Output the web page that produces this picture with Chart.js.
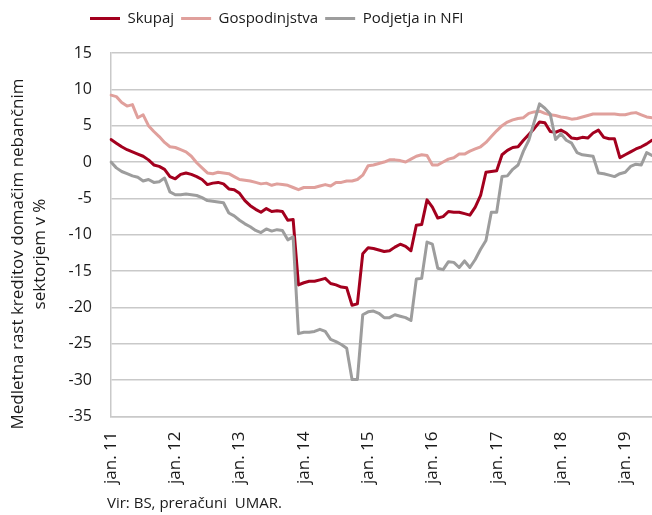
<!DOCTYPE html>
<html>
<head>
<meta charset="utf-8">
<title>Medletna rast kreditov</title>
<script src="https://cdn.jsdelivr.net/npm/chart.js@4.4.1/dist/chart.umd.min.js"></script>
<style>
  html, body { margin: 0; padding: 0; background: #fff; }
  #wrap { width: 652px; height: 515px; }
</style>
</head>
<body>
<div id="wrap"><canvas id="chart" width="652" height="515"></canvas></div>
<script>
// monthly data, jan. 2011 - jun. 2019
const months = ['jan.', 'feb.', 'mar.', 'apr.', 'maj', 'jun.', 'jul.', 'avg.', 'sep.', 'okt.', 'nov.', 'dec.'];
const years = ['11', '12', '13', '14', '15', '16', '17', '18', '19'];
const categories = [];
years.forEach(y => months.forEach(m => categories.push(m + ' ' + y)));
categories.length = 102; // last month is jun. 19

const skupaj = [
  3.1, 2.6, 2.1, 1.7, 1.4, 1.1, 0.8, 0.3, -0.4, -0.6, -1.0, -2.0,
  -2.3, -1.7, -1.5, -1.7, -2.0, -2.4, -3.1, -2.9, -2.8, -3.0, -3.7, -3.8,
  -4.3, -5.3, -6.0, -6.5, -6.9, -6.4, -6.8, -6.7, -6.8, -8.0, -7.9, -16.9,
  -16.6, -16.4, -16.4, -16.2, -16.0, -16.7, -16.9, -17.2, -17.3, -19.7, -19.5, -12.6,
  -11.8, -11.9, -12.1, -12.3, -12.2, -11.7, -11.3, -11.6, -12.2, -8.7, -8.6, -5.2,
  -6.2, -7.7, -7.5, -6.8, -6.9, -6.9, -7.1, -7.3, -6.2, -4.6, -1.4, -1.3,
  -1.2, 1.0, 1.6, 2.0, 2.1, 3.0, 3.8, 4.6, 5.5, 5.4, 4.2, 4.1,
  4.4, 4.0, 3.3, 3.2, 3.4, 3.3, 4.0, 4.4, 3.4, 3.2, 3.2, 0.6,
  1.0, 1.4, 1.8, 2.1, 2.5, 3.0
];

const gospodinjstva = [
  9.2, 9.0, 8.2, 7.7, 7.9, 6.1, 6.5, 5.0, 4.2, 3.5, 2.7, 2.1,
  2.0, 1.7, 1.4, 0.8, -0.1, -0.8, -1.5, -1.6, -1.4, -1.5, -1.6, -2.0,
  -2.4, -2.5, -2.6, -2.8, -3.0, -2.9, -3.2, -3.0, -3.1, -3.2, -3.5, -3.8,
  -3.5, -3.5, -3.5, -3.3, -3.1, -3.3, -2.8, -2.8, -2.6, -2.6, -2.4, -1.8,
  -0.5, -0.4, -0.2, 0.0, 0.3, 0.3, 0.2, 0.0, 0.4, 0.8, 1.0, 0.9,
  -0.4, -0.4, 0.0, 0.4, 0.6, 1.1, 1.1, 1.5, 1.8, 2.1, 2.7, 3.5,
  4.3, 5.0, 5.5, 5.8, 6.0, 6.1, 6.7, 6.9, 7.0, 6.7, 6.5, 6.4,
  6.2, 6.1, 5.9, 6.0, 6.2, 6.4, 6.6, 6.6, 6.6, 6.6, 6.6, 6.5,
  6.5, 6.7, 6.8, 6.5, 6.2, 6.1
];

const podjetja = [
  0.0, -0.8, -1.3, -1.6, -1.9, -2.1, -2.6, -2.4, -2.8, -2.7, -2.2, -4.1,
  -4.5, -4.5, -4.4, -4.5, -4.6, -4.9, -5.3, -5.4, -5.5, -5.6, -7.0, -7.4,
  -8.0, -8.5, -8.9, -9.4, -9.7, -9.2, -9.5, -9.3, -9.4, -10.7, -10.3, -23.6,
  -23.4, -23.4, -23.3, -23.0, -23.3, -24.4, -24.7, -25.1, -25.6, -29.9, -29.9, -21.0,
  -20.6, -20.5, -20.8, -21.4, -21.4, -21.0, -21.2, -21.4, -21.8, -16.1, -16.0, -11.0,
  -11.3, -14.6, -14.8, -13.7, -13.8, -14.5, -13.6, -14.5, -13.4, -12.0, -10.8, -6.9,
  -6.9, -2.0, -1.9, -1.0, -0.4, 1.5, 3.0, 5.5, 8.0, 7.4, 6.6, 3.1,
  3.9, 3.0, 2.6, 1.3, 1.0, 0.9, 0.8, -1.5, -1.6, -1.8, -2.0, -1.6,
  -1.4, -0.6, -0.3, -0.4, 1.3, 0.9
];

const yTitle = ['Medletna rast kreditov domačim nebančnim', 'sektorjem v %'];
const sourceText = 'Vir: BS, preračuni  UMAR.';

const FONT = '"Open Sans", "Noto Sans", sans-serif';
const GRID = '#c9c9c9';
const TEXT = '#1a1a1a';

// extra room under the legend, and legend moved right
const legendPlace = {
  id: 'legendPlace',
  beforeInit(chart) {
    const fit = chart.legend.fit;
    chart.legend.fit = function () {
      fit.bind(chart.legend)();
      this.height += 17;
    };
  },
  afterLayout(chart) {
    chart.legend.left = 83;
  }
};

// y title and source line are plain text on the canvas
const sideTexts = {
  id: 'sideTexts',
  afterDraw(chart) {
    const ctx = chart.ctx;
    ctx.save();
    ctx.fillStyle = TEXT;
    ctx.textAlign = 'center';
    ctx.textBaseline = 'middle';
    ctx.font = '17px ' + FONT;
    ctx.translate(18, 254);
    ctx.rotate(-Math.PI / 2);
    ctx.fillText(yTitle[0], 0, 0);
    ctx.fillText(yTitle[1], 0, 22);
    ctx.restore();

    ctx.save();
    ctx.fillStyle = TEXT;
    ctx.textBaseline = 'middle';
    ctx.font = '15px ' + FONT;
    ctx.fillText(sourceText, 107, 504);
    ctx.restore();
  }
};

new Chart(document.getElementById('chart'), {
  type: 'line',
  data: {
    labels: categories,
    datasets: [
      {
        label: 'Skupaj',
        data: skupaj,
        borderColor: '#a3001e',
        backgroundColor: '#a3001e',
        borderWidth: 3,
        order: 2
      },
      {
        label: 'Gospodinjstva',
        data: gospodinjstva,
        borderColor: '#e0a09c',
        backgroundColor: '#e0a09c',
        borderWidth: 3,
        order: 1
      },
      {
        label: 'Podjetja in NFI',
        data: podjetja,
        borderColor: '#9d9d9d',
        backgroundColor: '#9d9d9d',
        borderWidth: 3,
        order: 0
      }
    ]
  },
  options: {
    responsive: false,
    animation: false,
    devicePixelRatio: 1,
    layout: {
      padding: { left: 0, right: 0, top: 4, bottom: 24 }
    },
    elements: {
      line: { tension: 0, borderCapStyle: 'round', borderJoinStyle: 'round' },
      point: { radius: 0 }
    },
    plugins: {
      tooltip: { enabled: false },
      legend: {
        position: 'top',
        align: 'start',
        labels: {
          boxWidth: 30,
          boxHeight: 3,
          padding: 7,
          color: TEXT,
          font: { family: FONT, size: 15 },
          sort: (a, b) => a.datasetIndex - b.datasetIndex,
          generateLabels: (chart) =>
            Chart.defaults.plugins.legend.labels.generateLabels(chart)
              .map(item => Object.assign(item, { lineWidth: 0 }))
        }
      }
    },
    scales: {
      x: {
        type: 'category',
        offset: false,
        afterFit: (scale) => { scale.paddingRight = 0; scale.paddingLeft = 0; },
        grid: { display: false },
        border: { display: true, color: GRID, width: 1.5 },
        ticks: {
          autoSkip: false,
          maxRotation: 90,
          minRotation: 90,
          padding: 7,
          color: TEXT,
          font: { family: FONT, size: 17 },
          callback: function (value) {
            const lbl = this.getLabelForValue(value);
            return lbl.startsWith('jan.') ? lbl : '';
          }
        }
      },
      y: {
        min: -35,
        max: 15,
        afterFit: (scale) => { scale.width = 111; },
        grid: { color: GRID, lineWidth: 1.5, drawTicks: false },
        border: { display: true, color: GRID, width: 1.5 },
        ticks: {
          stepSize: 5,
          padding: 19,
          color: TEXT,
          font: { family: FONT, size: 16 }
        }
      }
    }
  },
  plugins: [legendPlace, sideTexts]
});
</script>
</body>
</html>
